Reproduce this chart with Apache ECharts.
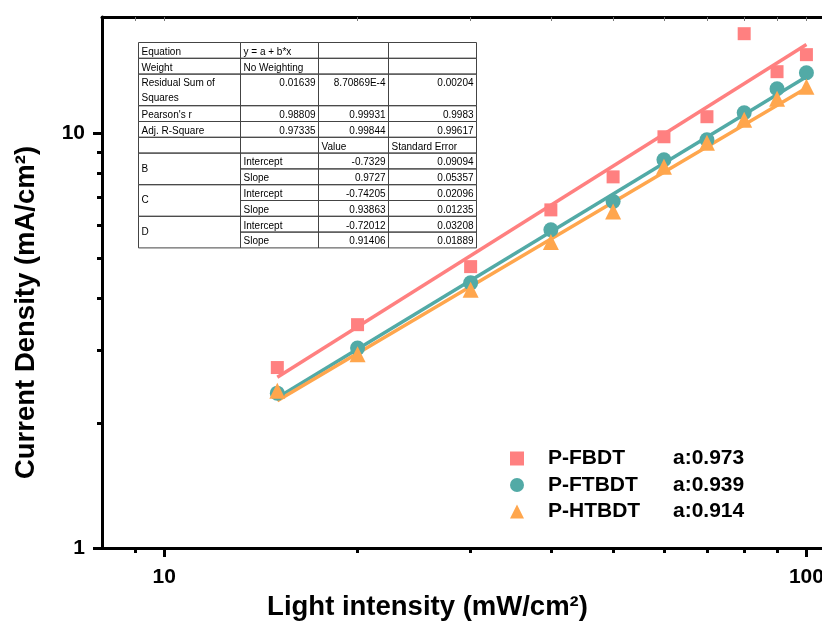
<!DOCTYPE html>
<html><head><meta charset="utf-8">
<script src="https://cdn.jsdelivr.net/npm/echarts@6/dist/echarts.min.js"></script>
<style>html,body{margin:0;padding:0;background:#fff}#c{width:822px;height:621px}</style>
</head><body><div id="c"></div>
<script>
// ---- data ----
const intensity = [15, 20, 30, 40, 50, 60, 70, 80, 90, 100];
const jFBDT  = [2.72, 3.45, 4.76, 6.52, 7.83, 9.78, 10.93, 17.32, 14.03, 15.42];
const jFTBDT = [2.36, 3.03, 4.35, 5.84, 6.83, 8.61, 9.62, 11.17, 12.76, 13.95];
const jHTBDT = [2.39, 2.93, 4.19, 5.46, 6.46, 8.28, 9.46, 10.75, 12.08, 12.91];
const fitX = [15, 100];
const fitFBDT  = [2.577, 16.31];
const fitFTBDT = [2.301, 13.65];
const fitHTBDT = [2.264, 12.82];
const seriesNames = ['P-FBDT', 'P-FTBDT', 'P-HTBDT'];
const aLabels = ['a:0.973', 'a:0.939', 'a:0.914'];
const xMajorTicks = [10, 100];
const xMinorTicks = [9, 20, 30, 40, 50, 60, 70, 80, 90];
const xTopTicks = [9, 10, 20, 30, 40, 50, 60, 70, 80, 90, 100];
const yMajorTicks = [1, 10];
const yMinorTicks = [2, 3, 4, 5, 6, 7, 8, 9];
const tableRows = [
  ['Equation', 'y = a + b*x', '', ''],
  ['Weight', 'No Weighting', '', ''],
  ['Residual Sum of\nSquares', '0.01639', '8.70869E-4', '0.00204'],
  ["Pearson's r", '0.98809', '0.99931', '0.9983'],
  ['Adj. R-Square', '0.97335', '0.99844', '0.99617'],
  ['', '', 'Value', 'Standard Error'],
  ['B', 'Intercept', '-0.7329', '0.09094'],
  ['', 'Slope', '0.9727', '0.05357'],
  ['C', 'Intercept', '-0.74205', '0.02096'],
  ['', 'Slope', '0.93863', '0.01235'],
  ['D', 'Intercept', '-0.72012', '0.03208'],
  ['', 'Slope', '0.91406', '0.01889']
];
const rowUnits = [1, 1, 2, 1, 1, 1, 1, 1, 1, 1, 1, 1];
const mergedStarts = [6, 8, 10];

// ---- style ----
const FONT = '"Liberation Sans", Arial, sans-serif';
const colors = ['#FF8080', '#52AAA6', '#FFA64D'];
const symbols = ['rect', 'circle', 'triangle'];
const symbolSizes = [13, 15, 16];

// ---- table graphic ----
const colX = [138.5, 240.5, 318.5, 388.5, 476.5];
const tableTop = 42.5, unit = 15.8;
const tableEls = [];
let y = tableTop;
const numRe = /^-?[\d.]+(E-?\d+)?$/;
tableRows.forEach((row, r) => {
  const h = rowUnits[r] * unit;
  for (let c = 0; c < 4; c++) {
    let ch = h;
    const isMergeStart = c === 0 && mergedStarts.includes(r);
    const isMergeCont = c === 0 && mergedStarts.includes(r - 1);
    if (isMergeCont) continue;
    if (isMergeStart) ch = h * 2;
    tableEls.push({type: 'rect', shape: {x: colX[c], y: y, width: colX[c + 1] - colX[c], height: ch},
      style: {fill: 'none', stroke: '#444', lineWidth: 1}, silent: true, z: 10});
    const txt = row[c];
    if (!txt) continue;
    const right = numRe.test(txt);
    tableEls.push({type: 'text', silent: true, z: 10,
      style: {text: txt, x: right ? colX[c + 1] - 3 : colX[c] + 3,
        y: isMergeStart ? y + ch / 2 : y + 2, align: right ? 'right' : 'left',
        verticalAlign: isMergeStart ? 'middle' : 'top',
        font: '10px ' + FONT, fill: '#000', lineHeight: 15}});
  }
  y += h;
});

// ---- chart ----
const chart = echarts.init(document.getElementById('c'));
const logX = {type: 'log', min: 8, max: 110, splitLine: {show: false}, minorTick: {show: false}, minorSplitLine: {show: false}};
const logY = {type: 'log', min: 1, max: 19, splitLine: {show: false}, minorTick: {show: false}, minorSplitLine: {show: false}};
const tickLbl = {fontSize: 21, fontWeight: 'bold', color: '#000', fontFamily: FONT};

const series = [];
[fitFBDT, fitFTBDT, fitHTBDT].forEach((f, i) => {
  series.push({name: 'fit ' + seriesNames[i], type: 'line', xAxisIndex: 0, yAxisIndex: 0,
    data: fitX.map((x, k) => [x, f[k]]), symbol: 'none', z: 2,
    lineStyle: {color: colors[i], width: 3.5}, silent: true});
});
[jFBDT, jFTBDT, jHTBDT].forEach((d, i) => {
  series.push({name: seriesNames[i], type: 'scatter', xAxisIndex: 0, yAxisIndex: 0,
    data: intensity.map((x, k) => [x, d[k]]), symbol: symbols[i], symbolSize: symbolSizes[i], z: 3,
    itemStyle: {color: colors[i], opacity: 1}});
});

chart.setOption({
  backgroundColor: '#fff',
  animation: false,
  grid: {left: 102, top: 17, width: 731, height: 531, containLabel: false, outerBoundsMode: 'none'},
  xAxis: [
    Object.assign({}, logX, {position: 'bottom',
      axisLine: {lineStyle: {color: '#000', width: 3}},
      axisTick: {customValues: xMajorTicks, length: 9, lineStyle: {color: '#000', width: 3}},
      axisLabel: Object.assign({customValues: xMajorTicks, margin: 19}, tickLbl),
      name: 'Light intensity (mW/cm²)', nameLocation: 'middle', nameGap: 45,
      nameTextStyle: {fontSize: 27.5, fontWeight: 'bold', color: '#000', fontFamily: FONT, padding: [0, 80, 0, 0]}}),
    Object.assign({}, logX, {position: 'bottom', axisLine: {show: false},
      axisTick: {customValues: xMinorTicks, length: 5, lineStyle: {color: '#000', width: 3}},
      axisLabel: {show: false}}),
    Object.assign({}, logX, {position: 'top',
      axisLine: {lineStyle: {color: '#000', width: 3}},
      axisTick: {customValues: xTopTicks, inside: true, length: 4, lineStyle: {color: '#777', width: 1}},
      axisLabel: {show: false}})
  ],
  yAxis: [
    Object.assign({}, logY, {position: 'left',
      axisLine: {lineStyle: {color: '#000', width: 3}},
      axisTick: {customValues: yMajorTicks, length: 9, lineStyle: {color: '#000', width: 3}},
      axisLabel: Object.assign({customValues: yMajorTicks, margin: 17}, tickLbl),
      name: 'Current Density (mA/cm²)', nameLocation: 'middle', nameGap: 62,
      nameTextStyle: {fontSize: 27.5, fontWeight: 'bold', color: '#000', fontFamily: FONT, padding: [0, 60, 0, 0]}}),
    Object.assign({}, logY, {position: 'left', axisLine: {show: false},
      axisTick: {customValues: yMinorTicks, length: 5, lineStyle: {color: '#000', width: 3}},
      axisLabel: {show: false}})
  ],
  legend: {
    data: seriesNames, orient: 'vertical', left: 505, top: 443,
    itemWidth: 14, itemHeight: 14, itemGap: 5.5,
    textStyle: {fontSize: 21, fontWeight: 'bold', color: '#000', fontFamily: FONT, lineHeight: 21,
      rich: {n: {width: 125, padding: [0, 0, 0, 19], fontSize: 21, fontWeight: 'bold', fontFamily: FONT, color: '#000'},
             a: {fontSize: 21, fontWeight: 'bold', fontFamily: FONT, color: '#000'}}},
    formatter: name => '{n|' + name + '}{a|' + aLabels[seriesNames.indexOf(name)] + '}'
  },
  graphic: tableEls,
  series: series
});
</script></body></html>
